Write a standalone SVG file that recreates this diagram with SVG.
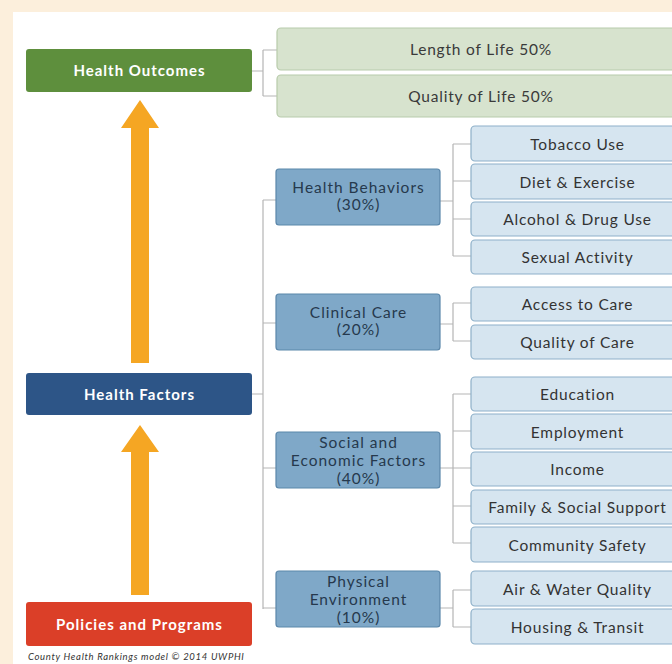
<svg xmlns="http://www.w3.org/2000/svg" width="672" height="664" viewBox="0 0 672 664">
<defs>
<style>
.t{font-family:Lato,"Open Sans","Liberation Sans",sans-serif;text-anchor:middle}
.main{font-size:15px;font-weight:bold;fill:#ffffff;letter-spacing:1px}
.out{fill:#d7e3ce;stroke:#b8cbab;stroke-width:1.2}
.outt{font-size:15.5px;fill:#3a3a3a;letter-spacing:0.8px}
.mid{fill:#7fa8c8;stroke:#5b87aa;stroke-width:1.2}
.midt{font-size:15.5px;fill:#26394d;letter-spacing:1px}
.leaf{fill:#d6e5f0;stroke:#8eb0c9;stroke-width:1.2}
.leaft{font-size:15.5px;fill:#333333;letter-spacing:0.8px}
.con{fill:none;stroke:#b5b5b5;stroke-width:1.2}
.arr{fill:#f5a623}
</style>
</defs>
<rect x="0" y="0" width="672" height="664" fill="#fcefdc"/>
<rect x="13" y="12" width="659" height="652" fill="#ffffff"/>

<g id="connectors">
<path class="con" d="M252 71H263M263 50V96M263 50H277M263 96H277"/>
<path class="con" d="M252 394H263M263 200V609M263 200H276M263 323H276M263 468H276M263 608H276"/>
<path class="con" d="M440 201H453M453 144V256M453 144H471M453 181H471M453 219H471M453 256H471"/>
<path class="con" d="M440 324H453M453 303V341M453 303H471M453 341H471"/>
<path class="con" d="M440 468H453M453 394V543M453 394H471M453 431H471M453 468H471M453 506H471M453 543H471"/>
<path class="con" d="M440 608H453M453 590V627M453 590H471M453 627H471"/>
</g>

<g id="arrow-up-1"><path class="arr" d="M140 100L159 128H149V363H131V128H121Z"/></g>
<g id="arrow-up-2"><path class="arr" d="M140 425L159 452H149V595H131V452H121Z"/></g>

<g id="health-outcomes"><rect x="26" y="49" width="226" height="43" rx="3" fill="#5e8f3d"/><text class="t main" x="139.5" y="76">Health Outcomes</text></g>
<g id="health-factors"><rect x="26" y="373" width="226" height="42" rx="3" fill="#2d5587"/><text class="t main" x="139.5" y="399.5">Health Factors</text></g>
<g id="policies"><rect x="26" y="602" width="226" height="44" rx="3" fill="#db3f28"/><text class="t main" x="139.5" y="629.5">Policies and Programs</text></g>
<text x="28" y="660" font-family="Lato,'Liberation Sans',sans-serif" font-size="9.5" font-style="italic" letter-spacing="0.7" fill="#333">County Health Rankings model © 2014 UWPHI</text>

<g id="length-of-life"><rect class="out" x="277" y="28" width="400" height="42" rx="4"/><text class="t outt" x="481" y="54.5">Length of Life 50%</text></g>
<g id="quality-of-life"><rect class="out" x="277" y="75" width="400" height="42" rx="4"/><text class="t outt" x="481" y="101.5">Quality of Life 50%</text></g>

<g id="health-behaviors"><rect class="mid" x="276" y="169" width="164" height="56" rx="3"/><text class="t midt" x="358.5" y="192.5">Health Behaviors</text><text class="t midt" x="358.5" y="209.5">(30%)</text></g>
<g id="clinical-care"><rect class="mid" x="276" y="294" width="164" height="56" rx="3"/><text class="t midt" x="358.5" y="317.5">Clinical Care</text><text class="t midt" x="358.5" y="334.5">(20%)</text></g>
<g id="social-economic"><rect class="mid" x="276" y="432" width="164" height="56" rx="3"/><text class="t midt" x="358.5" y="447.5">Social and</text><text class="t midt" x="358.5" y="465.5">Economic Factors</text><text class="t midt" x="358.5" y="483.5">(40%)</text></g>
<g id="physical-env"><rect class="mid" x="276" y="571" width="164" height="56" rx="3"/><text class="t midt" x="358.5" y="586.5">Physical</text><text class="t midt" x="358.5" y="604.5">Environment</text><text class="t midt" x="358.5" y="622.5">(10%)</text></g>

<g id="tobacco"><rect class="leaf" x="471" y="126" width="210" height="35" rx="4"/><text class="t leaft" x="577.5" y="149.5">Tobacco Use</text></g>
<g id="diet"><rect class="leaf" x="471" y="164" width="210" height="35" rx="4"/><text class="t leaft" x="577.5" y="187.5">Diet &amp; Exercise</text></g>
<g id="alcohol"><rect class="leaf" x="471" y="202" width="210" height="34" rx="4"/><text class="t leaft" x="577.5" y="224.5">Alcohol &amp; Drug Use</text></g>
<g id="sexual"><rect class="leaf" x="471" y="240" width="210" height="34" rx="4"/><text class="t leaft" x="577.5" y="262.5">Sexual Activity</text></g>
<g id="access"><rect class="leaf" x="471" y="287" width="210" height="34" rx="4"/><text class="t leaft" x="577.5" y="309.5">Access to Care</text></g>
<g id="quality-care"><rect class="leaf" x="471" y="325" width="210" height="34" rx="4"/><text class="t leaft" x="577.5" y="347.5">Quality of Care</text></g>
<g id="education"><rect class="leaf" x="471" y="377" width="210" height="34" rx="4"/><text class="t leaft" x="577.5" y="399.5">Education</text></g>
<g id="employment"><rect class="leaf" x="471" y="414" width="210" height="35" rx="4"/><text class="t leaft" x="577.5" y="437.5">Employment</text></g>
<g id="income"><rect class="leaf" x="471" y="452" width="210" height="34" rx="4"/><text class="t leaft" x="577.5" y="474.5">Income</text></g>
<g id="family"><rect class="leaf" x="471" y="490" width="210" height="34" rx="4"/><text class="t leaft" x="577.5" y="512.5">Family &amp; Social Support</text></g>
<g id="community"><rect class="leaf" x="471" y="527" width="210" height="35" rx="4"/><text class="t leaft" x="577.5" y="550.5">Community Safety</text></g>
<g id="air-water"><rect class="leaf" x="471" y="571" width="210" height="35" rx="4"/><text class="t leaft" x="577.5" y="594.5">Air &amp; Water Quality</text></g>
<g id="housing"><rect class="leaf" x="471" y="609" width="210" height="35" rx="4"/><text class="t leaft" x="577.5" y="632.5">Housing &amp; Transit</text></g>
</svg>
